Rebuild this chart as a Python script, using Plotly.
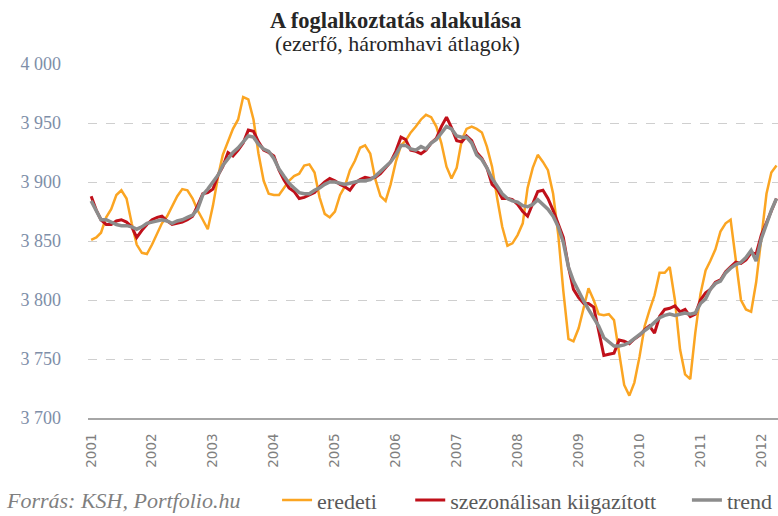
import pandas as pd
import plotly.graph_objects as go

# monthly dates, 2001-01 .. 2012-04
dates = pd.date_range("2001-01-01", "2012-04-01", freq="MS")

eredeti = [
    3851, 3853, 3857, 3870, 3877, 3889, 3893, 3886, 3865, 3847, 3840, 3839,
    3847, 3856, 3865, 3871, 3880, 3888, 3894, 3893, 3886, 3876, 3868, 3860,
    3880, 3905, 3923, 3935, 3945, 3953, 3972, 3970, 3953, 3924, 3901, 3890,
    3889, 3889, 3895, 3901, 3905, 3907, 3914, 3915, 3908, 3887, 3873, 3870,
    3875, 3889, 3896, 3910, 3918, 3929, 3931, 3924, 3902, 3888, 3884, 3898,
    3917, 3931, 3935, 3942, 3947, 3953, 3957, 3955, 3947, 3933, 3913, 3903,
    3912, 3936, 3945, 3947, 3945, 3942, 3930, 3913, 3886, 3862, 3846, 3848,
    3855, 3865, 3895, 3912, 3923, 3917, 3910, 3890, 3855, 3808, 3767, 3765,
    3776, 3794, 3810, 3800, 3788, 3787, 3788, 3783, 3755, 3728, 3719, 3730,
    3752, 3778, 3791, 3804, 3823, 3823, 3828, 3800, 3758, 3737, 3733, 3772,
    3805, 3825, 3833, 3843, 3858, 3865, 3868, 3832, 3800, 3792, 3790, 3815,
    3850, 3890, 3908, 3914,
]

szezonalisan = [
    3888, 3876, 3868, 3864, 3864, 3867, 3868, 3866, 3862, 3853, 3859, 3864,
    3868, 3870, 3871, 3867, 3864, 3865, 3866, 3868, 3871, 3880, 3890, 3891,
    3894, 3906, 3913, 3925, 3922, 3927, 3933, 3944, 3943, 3934, 3927, 3925,
    3922, 3910, 3902, 3895, 3892, 3886, 3887, 3889, 3891, 3896, 3900, 3903,
    3901, 3898, 3896, 3893, 3899, 3902, 3904, 3903, 3904, 3907, 3912, 3917,
    3926, 3938, 3936, 3927, 3926, 3924, 3927, 3933, 3937, 3947, 3955, 3946,
    3935, 3934, 3939, 3935, 3925, 3920, 3912, 3898, 3894, 3886, 3886, 3885,
    3881, 3875, 3871, 3882, 3892, 3893, 3886, 3876, 3865, 3853, 3828, 3809,
    3802, 3797, 3797, 3794, 3774, 3753, 3754, 3755, 3766, 3765, 3763, 3767,
    3770, 3775, 3778, 3772, 3786, 3792, 3793, 3795, 3790, 3792, 3786, 3788,
    3800, 3806, 3809, 3815, 3817, 3824, 3828, 3832, 3831, 3834, 3840, 3839,
    3855, 3866, 3876, 3886,
]

trend = [
    3884, 3875, 3868, 3868, 3866, 3864, 3863, 3863, 3862, 3860, 3862, 3865,
    3866, 3867, 3868, 3867, 3865, 3867, 3868, 3870, 3872, 3877, 3889, 3894,
    3900, 3906, 3914, 3920, 3925, 3929, 3934, 3939, 3938, 3932, 3928, 3926,
    3920, 3911, 3905, 3899, 3895, 3891, 3890, 3890, 3893, 3895, 3898, 3900,
    3900, 3899, 3898, 3899, 3900, 3901, 3901, 3902, 3905, 3909, 3914, 3917,
    3923, 3931, 3931, 3928, 3927, 3930, 3928, 3933, 3936, 3941, 3947, 3945,
    3939, 3938, 3938, 3933, 3923, 3919, 3912, 3903, 3896, 3890, 3886, 3884,
    3883, 3880, 3879, 3881, 3885, 3881, 3877, 3871, 3862, 3849, 3828, 3816,
    3807, 3799, 3792, 3785, 3778, 3768, 3765, 3761, 3761, 3762, 3764, 3767,
    3770, 3774, 3777, 3781, 3785, 3787, 3788, 3787, 3788, 3789, 3788, 3789,
    3797, 3801, 3809, 3814, 3816, 3823, 3827, 3830, 3832, 3836, 3842, 3833,
    3852, 3865, 3876, 3886,
]

y_ticks = [3700, 3750, 3800, 3850, 3900, 3950, 4000]
y_labels = ["3 700", "3 750", "3 800", "3 850", "3 900", "3 950", "4 000"]

serif = "Liberation Serif, Times New Roman, serif"
legend_font = dict(family=serif, size=22, color="#595959")

fig = go.Figure()
fig.add_trace(go.Scatter(x=dates, y=eredeti, name="eredeti", mode="lines", showlegend=True,
                         line=dict(color="#fba522", width=2.5), legend="legend"))
fig.add_trace(go.Scatter(x=dates, y=szezonalisan, name="szezonálisan kiigazított", mode="lines",
                         showlegend=True, line=dict(color="#c0101a", width=3), legend="legend2"))
fig.add_trace(go.Scatter(x=dates, y=trend, name="trend", mode="lines", showlegend=True,
                         line=dict(color="#8c8c8c", width=3.5), legend="legend3"))

fig.update_layout(
    width=778, height=516,
    showlegend=True,
    margin=dict(l=88, r=0, t=64, b=98, autoexpand=False),
    paper_bgcolor="white", plot_bgcolor="white",
    legend=dict(x=0.274, xanchor="left", y=-0.232, yanchor="middle", font=legend_font),
    legend2=dict(x=0.467, xanchor="left", y=-0.232, yanchor="middle", font=legend_font),
    legend3=dict(x=0.868, xanchor="left", y=-0.232, yanchor="middle", font=legend_font),
    annotations=[
        dict(text="<b>A foglalkoztatás alakulása</b>", xref="paper", yref="paper",
             x=0.446, xanchor="center", y=1.124, yanchor="middle", showarrow=False,
             font=dict(family=serif, size=22.5, color="#262626")),
        dict(text="(ezerfő, háromhavi átlagok)", xref="paper", yref="paper",
             x=0.448, xanchor="center", y=1.0565, yanchor="middle", showarrow=False,
             font=dict(family=serif, size=22, color="#262626")),
        dict(text="<i>Forrás: KSH, Portfolio.hu</i>", xref="paper", yref="paper",
             x=-0.122, xanchor="left", y=-0.232, yanchor="middle", showarrow=False,
             font=dict(family=serif, size=22, color="#7f7f7f")),
    ],
)

fig.update_xaxes(range=["2000-12-13", "2012-04-10"], dtick="M12", tick0="2001-01-01",
                 tickformat="%Y", tickangle=-90, showgrid=False,
                 showline=True, linecolor="#a6a6a6", linewidth=2,
                 ticklabelstandoff=8,
                 tickfont=dict(family="DejaVu Sans, sans-serif", size=13.5, color="#7f7f7f"))
fig.update_yaxes(range=[3700, 4000], tickvals=y_ticks, ticktext=y_labels,
                 showgrid=True, gridcolor="#cfcfcf", griddash="dash", gridwidth=1,
                 zeroline=False, ticklabelstandoff=26,
                 tickfont=dict(family=serif, size=18, color="#7e8ea8"))

fig.write_html("out.html", config={"displayModeBar": False},
               post_script="document.body.style.margin='0';")
